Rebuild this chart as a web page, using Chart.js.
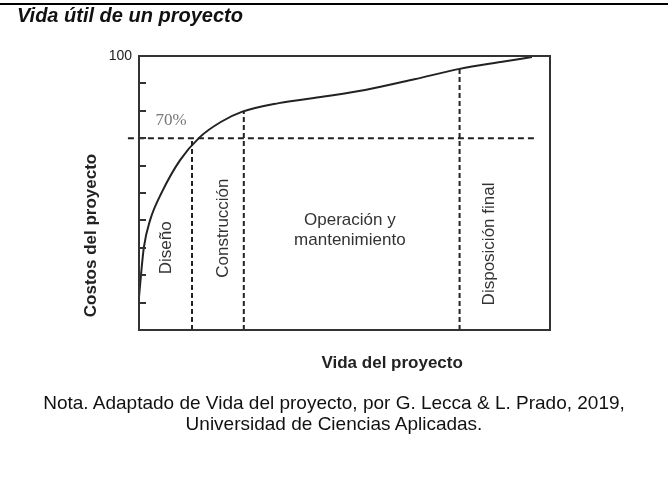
<!DOCTYPE html>
<html>
<head>
<meta charset="utf-8">
<script src="https://cdn.jsdelivr.net/npm/chart.js@4.4.1/dist/chart.umd.min.js"></script>
<style>
  html, body { margin: 0; padding: 0; background: #fff; }
  body { width: 668px; height: 502px; position: relative; overflow: hidden; font-family: "Liberation Sans", Arial, sans-serif; }
  .rule { position: absolute; left: 0; top: 3px; width: 668px; height: 2px; background: #000; }
  .title { position: absolute; left: 17px; top: 4px; font-size: 20px; font-weight: bold; font-style: italic; color: #111; }
  .wrap { position: absolute; left: 0; top: 0; width: 668px; height: 502px; }
  .note { position: absolute; left: 0; width: 668px; top: 392px; text-align: center; font-size: 19px; line-height: 21px; color: #111; }
</style>
</head>
<body>
<div class="wrap"><canvas id="chart" width="668" height="502"></canvas></div>
<div class="rule"></div>
<div class="title">Vida útil de un proyecto</div>
<div class="note">Nota. Adaptado de Vida del proyecto, por G. Lecca &amp; L. Prado, 2019,<br>Universidad de Ciencias Aplicadas.</div>
<script>
// cost curve, % of total cost over project life (x: 0..100)
const lifeX = [0, 0.5, 1.2, 2.7, 5.6, 10, 14.8, 20, 25, 34, 45, 55, 67, 78, 88, 95.6];
const costY = [12, 20.4, 30.3, 40.1, 50.4, 62, 70.4, 76, 79.6, 82.8, 85.2, 87.6, 91.5, 95.3, 97.8, 99.6];

// phase limits and the 70% reference
const phaseX = [12.9, 25.5, 78];
const phaseTop = [70, 80, 95.4];
const refY = 70;
const refFrom = -2.7;
const refTo = 97;

const yTicks = [0, 10, 20, 30, 40, 50, 60, 70, 80, 90, 100];

const phaseLabels = ["Diseño", "Construcción", "Operación y\nmantenimiento", "Disposición final"];
const labelX = [6.6, 20.4, 51.3, 85.2];
const labelY = [30, 37.2, 36.5, 31.4];
const labelRotated = [true, true, false, true];

const xTitle = "Vida del proyecto";
const yTitle = "Costos del proyecto";

const ink = "#222";
const sans = "'Liberation Sans', Arial, sans-serif";

const datasets = [{
  data: lifeX.map((x, i) => ({ x: x, y: costY[i] })),
  borderColor: ink,
  borderWidth: 2,
  pointRadius: 0,
  cubicInterpolationMode: "monotone",
  fill: false
}, {
  data: [{ x: refFrom, y: refY }, { x: refTo, y: refY }],
  borderColor: ink,
  borderWidth: 2,
  borderDash: [6, 4],
  pointRadius: 0,
  clip: false
}];
phaseX.forEach((x, i) => {
  datasets.push({
    data: [{ x: x, y: 0 }, { x: x, y: phaseTop[i] }],
    borderColor: ink,
    borderWidth: 2,
    borderDash: [5, 3],
    pointRadius: 0
  });
});

// frame, inner ticks, axis titles and the phase texts
const decor = {
  id: "decor",
  afterDatasetsDraw(chart) {
    const { ctx, chartArea: a, scales: { x, y } } = chart;
    ctx.save();
    ctx.strokeStyle = "#333";
    ctx.lineWidth = 2;
    ctx.strokeRect(a.left, a.top, a.right - a.left, a.bottom - a.top);
    ctx.beginPath();
    yTicks.forEach(v => {
      const py = Math.round(y.getPixelForValue(v));
      ctx.moveTo(a.left, py);
      ctx.lineTo(a.left + 7, py);
    });
    ctx.stroke();

    ctx.fillStyle = "#333";
    ctx.font = "17px " + sans;
    ctx.textAlign = "center";
    ctx.textBaseline = "middle";
    phaseLabels.forEach((t, i) => {
      const px = x.getPixelForValue(labelX[i]);
      const py = y.getPixelForValue(labelY[i]);
      const lines = t.split("\n");
      ctx.save();
      ctx.translate(px, py);
      if (labelRotated[i]) ctx.rotate(-Math.PI / 2);
      lines.forEach((l, k) => ctx.fillText(l, 0, (k - (lines.length - 1) / 2) * 20));
      ctx.restore();
    });

    ctx.fillStyle = "#222";
    ctx.font = "bold 17px " + sans;
    ctx.fillText(xTitle, x.getPixelForValue(61.6), a.bottom + 33);
    ctx.save();
    ctx.translate(a.left - 48, y.getPixelForValue(34.5));
    ctx.rotate(-Math.PI / 2);
    ctx.fillText(yTitle, 0, 0);
    ctx.restore();

    ctx.fillStyle = "#777";
    ctx.font = "17px 'Liberation Serif', 'Times New Roman', serif";
    ctx.textAlign = "left";
    ctx.fillText("70%", x.getPixelForValue(4), y.getPixelForValue(76.3));
    ctx.restore();
  }
};

new Chart(document.getElementById("chart"), {
  type: "line",
  data: { datasets: datasets },
  options: {
    responsive: false,
    animation: false,
    devicePixelRatio: 1,
    layout: { padding: { top: 56, right: 118, bottom: 127, left: 80 } },
    plugins: { legend: { display: false }, tooltip: { enabled: false } },
    scales: {
      x: {
        type: "linear",
        min: 0,
        max: 100,
        grid: { display: false, drawTicks: false },
        border: { display: false },
        ticks: { display: false },
        afterFit(s) { s.height = 45; }
      },
      y: {
        type: "linear",
        min: 0,
        max: 100,
        afterBuildTicks(s) { s.ticks = yTicks.map(v => ({ value: v })); },
        grid: { display: false, drawTicks: false },
        border: { display: false },
        ticks: {
          color: "#222",
          padding: 7,
          font: { family: sans, size: 14 },
          callback: v => (v === 100 ? "100" : "")
        },
        afterFit(s) { s.width = 59; }
      }
    }
  },
  plugins: [decor]
});
</script>
</body>
</html>
